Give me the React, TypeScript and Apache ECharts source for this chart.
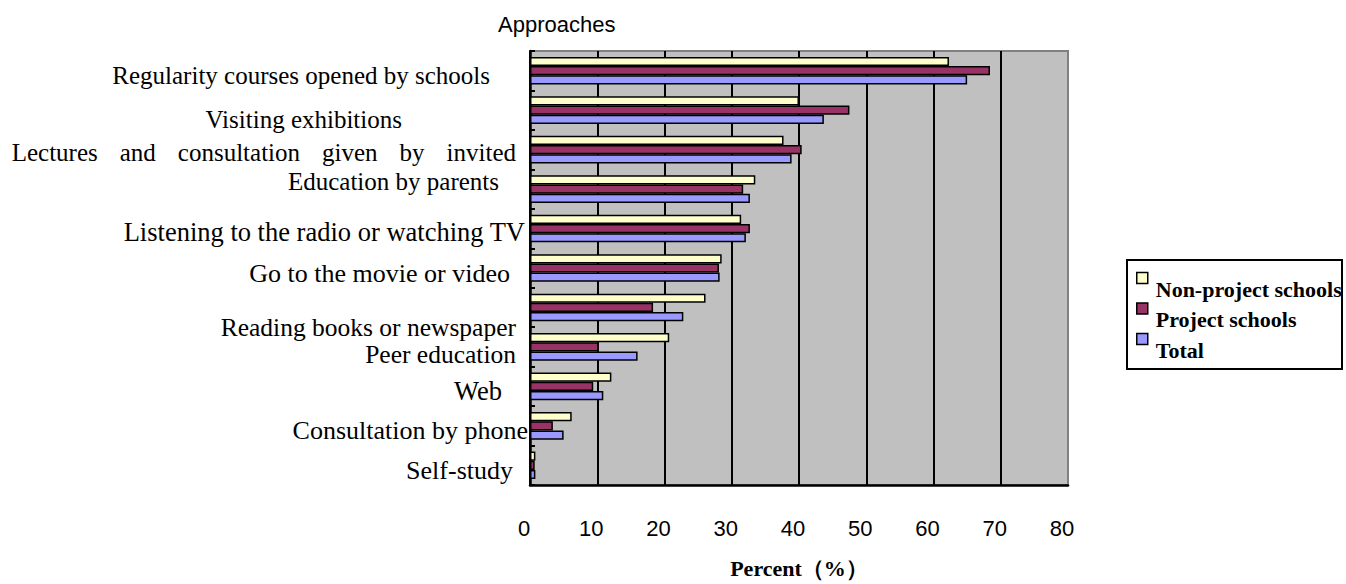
import React, { useEffect, useRef } from "react";
import * as echarts from "echarts";

// ---------- data ----------
const categories = [
  "Regularity courses opened by schools",
  "Visiting exhibitions",
  "Lectures and consultation given by invited",
  "Education by parents",
  "Listening to the radio or watching TV",
  "Go to the movie or video",
  "Reading books or newspaper",
  "Peer education",
  "Web",
  "Consultation by phone",
  "Self-study",
];
const seriesNames = ["Non-project schools", "Project schools", "Total"];
const nonProject = [62.3, 40.0, 37.7, 33.5, 31.4, 28.5, 26.1, 20.7, 12.1, 6.2, 0.8];
const project = [68.4, 47.5, 40.4, 31.7, 32.7, 28.1, 18.3, 10.2, 9.4, 3.4, 0.7];
const total = [65.0, 43.7, 38.9, 32.7, 32.1, 28.2, 22.8, 16.0, 10.9, 5.0, 0.8];
const xMin = 0;
const xMax = 80;
const xStep = 10;
const titleText = "Approaches";
const xAxisName = "Percent（%）";

// ---------- layout / style (not data) ----------
const colors = ["#ffffcc", "#993366", "#9999ff"];
const labelShiftX = [38, 126, 12, 29, 3, 18, 12, 12, 26, 0, 15];
const labelShiftY = [5, 9, 3, -8, 3, 5, 20, 8, 5, 5, 5];
const labelFontSize = [25, 25, 25, 25, 26.5, 26, 25.5, 25.5, 26.5, 26, 26];
const justifyIndex = 2;
const justifyGap = 22;

const catFont = { fontFamily: "Liberation Serif", color: "#000" };

function pad(dy: number, right: number) {
  return [dy > 0 ? 2 * dy : 0, right, dy < 0 ? -2 * dy : 0, 0];
}

function buildRich() {
  const rich: Record<string, any> = {};
  categories.forEach((_, i) => {
    rich["c" + i] = {
      ...catFont,
      fontSize: labelFontSize[i],
      padding: pad(labelShiftY[i], labelShiftX[i]),
    };
  });
  const dyj = labelShiftY[justifyIndex];
  const fsj = labelFontSize[justifyIndex];
  rich.j = { ...catFont, fontSize: fsj, padding: pad(dyj, justifyGap) };
  rich.jl = { ...catFont, fontSize: fsj, padding: pad(dyj, labelShiftX[justifyIndex]) };
  return rich;
}

export default function App() {
  const ref = useRef<HTMLDivElement>(null);
  useEffect(() => {
    if (!ref.current) return;
    const chart = echarts.init(ref.current, undefined, { renderer: "svg" });
    const seriesData = [nonProject, project, total];
    const option: any = {
      animation: false,
      backgroundColor: "#ffffff",
      title: {
        text: titleText,
        left: 498,
        top: 13,
        padding: 0,
        textStyle: { fontFamily: "Liberation Sans", fontSize: 22, fontWeight: "normal", color: "#000" },
      },
      legend: {
        orient: "vertical",
        left: 1136,
        top: 256,
        padding: 0,
        itemGap: -13.5,
        itemWidth: 11,
        itemHeight: 11,
        icon: "rect",
        data: seriesNames,
        itemStyle: { borderColor: "#000", borderWidth: 1.5 },
        formatter: (name: string) => `{t|${name}}`,
        textStyle: {
          rich: {
            t: {
              fontFamily: "Liberation Serif",
              fontWeight: "bold",
              fontSize: 22,
              lineHeight: 22,
              color: "#000",
              padding: [22, 0, 0, 3],
            },
          },
        },
        z: 10,
      },
      graphic: [
        {
          type: "rect",
          shape: { x: 1127, y: 260, width: 215, height: 109 },
          style: { fill: "#fff", stroke: "#000", lineWidth: 2 },
          z: 0,
        },
      ],
      grid: {
        left: 530,
        top: 51,
        width: 538,
        height: 434,
        show: true,
        backgroundColor: "#c0c0c0",
        borderColor: "#808080",
        borderWidth: 2,
        containLabel: false,
        outerBoundsMode: "none",
      },
      xAxis: {
        type: "value",
        min: xMin,
        max: xMax,
        interval: xStep,
        axisLine: { show: true, lineStyle: { color: "#000", width: 2.5 } },
        axisTick: { show: false },
        splitLine: { show: true, showMaxLine: false, lineStyle: { color: "#000", width: 2 } },
        axisLabel: {
          margin: 32,
          fontFamily: "Liberation Sans",
          fontSize: 22,
          color: "#000",
          padding: [0, 12, 0, 0],
        },
        name: xAxisName,
        nameLocation: "middle",
        nameGap: 72,
        nameTextStyle: { fontFamily: "Liberation Serif", fontWeight: "bold", fontSize: 22, color: "#000" },
      },
      yAxis: {
        type: "category",
        inverse: true,
        data: categories,
        axisLine: { show: true, lineStyle: { color: "#000", width: 2.5 } },
        axisTick: { show: true, inside: true, length: 5, lineStyle: { color: "#000", width: 2 } },
        splitLine: { show: false },
        axisLabel: {
          interval: 0,
          margin: 2,
          formatter: (value: string) => {
            const i = categories.indexOf(value);
            if (i === justifyIndex) {
              const words = value.split(" ");
              return words
                .map((w, k) => (k < words.length - 1 ? `{j|${w}}` : `{jl|${w}}`))
                .join("");
            }
            return `{c${i}|${value}}`;
          },
          rich: buildRich(),
        },
      },
      series: seriesNames.map((name, s) => ({
        name,
        type: "bar",
        data: seriesData[s],
        barGap: "0%",
        barCategoryGap: "30%",
        itemStyle: { color: colors[s], borderColor: "#000", borderWidth: 1.5 },
      })),
    };
    chart.setOption(option);
    return () => chart.dispose();
  }, []);
  return (
    <div
      ref={ref}
      style={{ position: "absolute", left: 0, top: 0, width: 1346, height: 584 }}
    />
  );
}
